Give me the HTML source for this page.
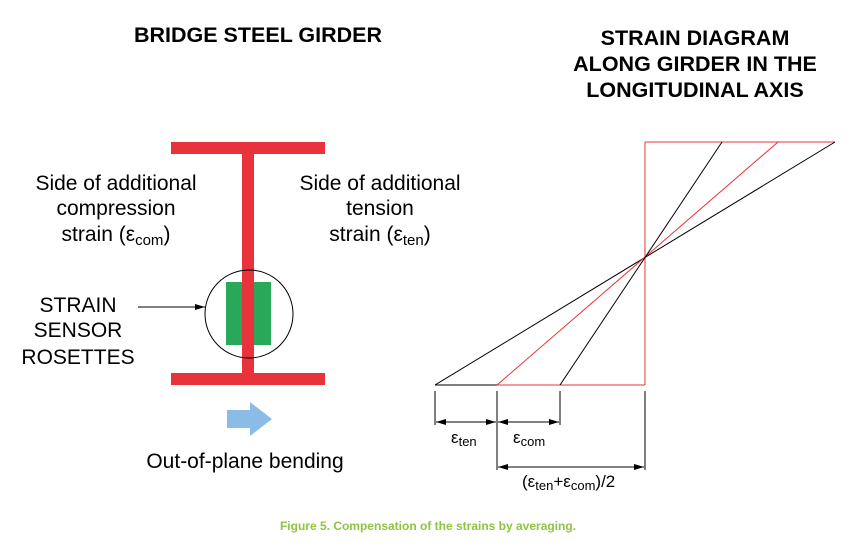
<!DOCTYPE html>
<html><head><style>
body{margin:0;background:#fff;}
svg text{font-family:"Liberation Sans",Arial,sans-serif;}
</style></head><body>
<svg width="856" height="549" viewBox="0 0 856 549" xmlns="http://www.w3.org/2000/svg">
<defs>
<marker id="a" markerWidth="10" markerHeight="6" refX="10" refY="3" orient="auto" markerUnits="userSpaceOnUse"><path d="M0,0 L10,3 L0,6 z" fill="#000"/></marker>
<marker id="b" markerWidth="10" markerHeight="6" refX="0" refY="3" orient="auto" markerUnits="userSpaceOnUse"><path d="M10,0 L0,3 L10,6 z" fill="#000"/></marker>
</defs>
<g font-weight="bold" font-size="21.5" text-anchor="middle" fill="#000">
<text x="258" y="42">BRIDGE STEEL GIRDER</text>
<text x="695" y="45">STRAIN DIAGRAM</text>
<text x="695" y="71">ALONG GIRDER IN THE</text>
<text x="695" y="97">LONGITUDINAL AXIS</text>
</g>
<g font-size="21" fill="#000" text-anchor="middle">
<text x="116" y="190">Side of additional</text>
<text x="116" y="215">compression</text>
<text x="116" y="241">strain (ε<tspan font-size="15" dy="4">com</tspan><tspan dy="-4">)</tspan></text>
<text x="380" y="190">Side of additional</text>
<text x="380" y="215">tension</text>
<text x="380" y="241">strain (ε<tspan font-size="15" dy="4">ten</tspan><tspan dy="-4">)</tspan></text>
<text x="78" y="312">STRAIN</text>
<text x="78" y="337">SENSOR</text>
<text x="78" y="364">ROSETTES</text>
<text x="245" y="468">Out-of-plane bending</text>
</g>
<rect x="171" y="142" width="154" height="12" fill="#e8333c"/>
<rect x="242" y="154" width="12" height="219" fill="#e8333c"/>
<rect x="171" y="373" width="154" height="12" fill="#e8333c"/>
<rect x="226" y="282" width="45" height="63" fill="#2aa85a"/>
<rect x="242" y="270" width="12" height="103" fill="#e8333c"/>
<circle cx="249" cy="314" r="44" fill="none" stroke="#000" stroke-width="1"/>
<line x1="138" y1="307" x2="205" y2="307" stroke="#000" stroke-width="1" marker-end="url(#a)"/>
<path d="M227,410 H250 V402 L272,419 L250,436 V428 H227 z" fill="#8bbce8"/>
<line x1="645" y1="142" x2="835" y2="142" stroke="#e8333c" stroke-width="1"/>
<line x1="645" y1="142" x2="645" y2="385" stroke="#e8333c" stroke-width="1"/>
<line x1="497" y1="385" x2="645" y2="385" stroke="#e8333c" stroke-width="1"/>
<line x1="435" y1="385" x2="497" y2="385" stroke="#000" stroke-width="1"/>
<line x1="435" y1="385" x2="835" y2="142" stroke="#000" stroke-width="1"/>
<line x1="497" y1="385" x2="778" y2="142" stroke="#e8333c" stroke-width="1"/>
<line x1="560" y1="385" x2="722" y2="142" stroke="#000" stroke-width="1"/>
<g stroke="#000" stroke-width="1">
<line x1="435" y1="391" x2="435" y2="425"/>
<line x1="497" y1="391" x2="497" y2="470"/>
<line x1="560" y1="391" x2="560" y2="425"/>
<line x1="645" y1="391" x2="645" y2="470"/>
<line x1="436" y1="422" x2="496" y2="422" marker-start="url(#b)" marker-end="url(#a)"/>
<line x1="498" y1="422" x2="559" y2="422" marker-start="url(#b)" marker-end="url(#a)"/>
<line x1="498" y1="467" x2="644" y2="467" marker-start="url(#b)" marker-end="url(#a)"/>
</g>
<g font-size="17" fill="#000">
<text x="451" y="443">ε<tspan font-size="13" dy="3">ten</tspan></text>
<text x="513" y="443">ε<tspan font-size="13" dy="3">com</tspan></text>
<text x="522" y="487">(ε<tspan font-size="13" dy="3">ten</tspan><tspan dy="-3">+ε</tspan><tspan font-size="13" dy="3">com</tspan><tspan dy="-3">)/2</tspan></text>
</g>
<text x="428" y="530" font-size="12" font-weight="bold" fill="#8cc63f" text-anchor="middle">Figure 5. Compensation of the strains by averaging.</text>
</svg>
</body></html>
